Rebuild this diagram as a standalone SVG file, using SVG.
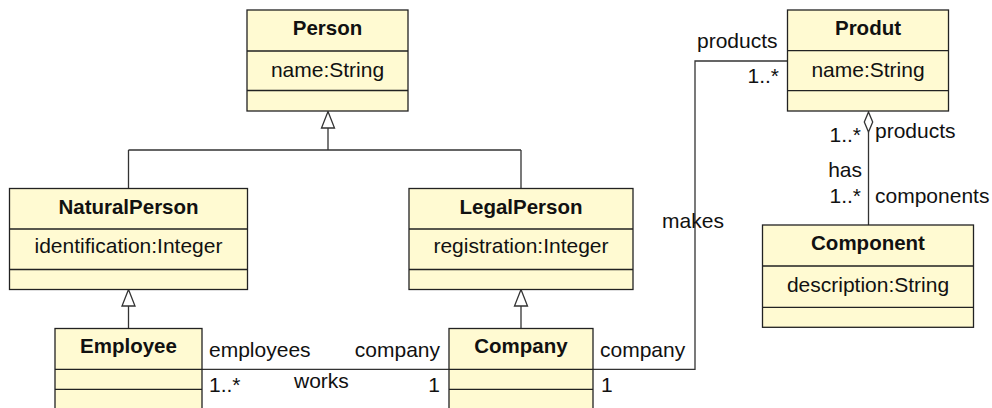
<svg xmlns="http://www.w3.org/2000/svg" width="992" height="408" viewBox="0 0 992 408">
<style>
.box{fill:#FFFAD2;stroke:#222;stroke-width:1.3}
.sep{stroke:#222;stroke-width:1.3}
.t{font-family:"Liberation Sans",Arial,sans-serif;font-size:21px;fill:#111}
.b{font-weight:bold;text-anchor:middle;font-size:20.5px}
.m{text-anchor:middle}
.e{text-anchor:end}
.ln{fill:none;stroke:#333;stroke-width:1.3}
.gen{fill:#fff;stroke:#333;stroke-width:1.3}
</style>
<rect width="992" height="408" fill="#fff"/>
<g id="connectors">
  <path class="ln" d="M328 128 V150 M128.5 150 H521 M128.5 150 V188 M521 150 V188"/>
  <polygon class="gen" points="328,111.5 334.5,128 321.5,128"/>
  <path class="ln" d="M128.5 306 V328"/>
  <polygon class="gen" points="128.5,289.5 135,306 122,306"/>
  <path class="ln" d="M521 306 V328"/>
  <polygon class="gen" points="521,289.5 527.5,306 514.5,306"/>
  <path class="ln" d="M202 369.3 H449"/>
  <path class="ln" d="M593 369.3 H695 V61 H787"/>
  <path class="ln" d="M868.5 132 V225"/>
  <polygon class="gen" points="868.5,112 872.7,122 868.5,132 864.3,122"/>
  <text class="t" x="209" y="357">employees</text>
  <text class="t e" x="440" y="357">company</text>
  <text class="t" x="209" y="392">1..*</text>
  <text class="t" x="294" y="388">works</text>
  <text class="t e" x="440" y="392">1</text>
  <text class="t" x="600" y="357">company</text>
  <text class="t" x="601" y="392">1</text>
  <text class="t" x="697" y="48">products</text>
  <text class="t e" x="779" y="83">1..*</text>
  <text class="t m" x="693" y="228">makes</text>
  <text class="t e" x="861" y="142">1..*</text>
  <text class="t" x="875" y="138">products</text>
  <text class="t e" x="862" y="177">has</text>
  <text class="t e" x="861" y="203">1..*</text>
  <text class="t" x="875" y="203">components</text>
</g>
<g id="Person">
  <rect class="box" x="247" y="10" width="161" height="101"/>
  <path class="sep" d="M247 51 H408 M247 90.5 H408"/>
  <text class="t b" x="327.5" y="35">Person</text>
  <text class="t m" x="327.5" y="77">name:String</text>
</g>
<g id="NaturalPerson">
  <rect class="box" x="9.5" y="188.5" width="238" height="101"/>
  <path class="sep" d="M9.5 229 H247.5 M9.5 269.5 H247.5"/>
  <text class="t b" x="128.5" y="214">NaturalPerson</text>
  <text class="t m" x="128.5" y="253">identification:Integer</text>
</g>
<g id="LegalPerson">
  <rect class="box" x="409" y="188.5" width="224" height="101"/>
  <path class="sep" d="M409 229 H633 M409 269.5 H633"/>
  <text class="t b" x="521" y="214">LegalPerson</text>
  <text class="t m" x="521" y="253">registration:Integer</text>
</g>
<g id="Employee">
  <rect class="box" x="55" y="328.5" width="147" height="90"/>
  <path class="sep" d="M55 369.3 H202 M55 389.3 H202"/>
  <text class="t b" x="128.5" y="353">Employee</text>
</g>
<g id="Company">
  <rect class="box" x="449" y="328.5" width="144" height="90"/>
  <path class="sep" d="M449 369.3 H593 M449 389.3 H593"/>
  <text class="t b" x="521" y="353">Company</text>
</g>
<g id="Produt">
  <rect class="box" x="787.5" y="10" width="161" height="101"/>
  <path class="sep" d="M787.5 50.7 H948.5 M787.5 90.7 H948.5"/>
  <text class="t b" x="868" y="35">Produt</text>
  <text class="t m" x="868" y="76.5">name:String</text>
</g>
<g id="Component">
  <rect class="box" x="762.5" y="225" width="211" height="102.3"/>
  <path class="sep" d="M762.5 266 H973.5 M762.5 307.3 H973.5"/>
  <text class="t b" x="868" y="250">Component</text>
  <text class="t m" x="868" y="291.5">description:String</text>
</g>
</svg>
